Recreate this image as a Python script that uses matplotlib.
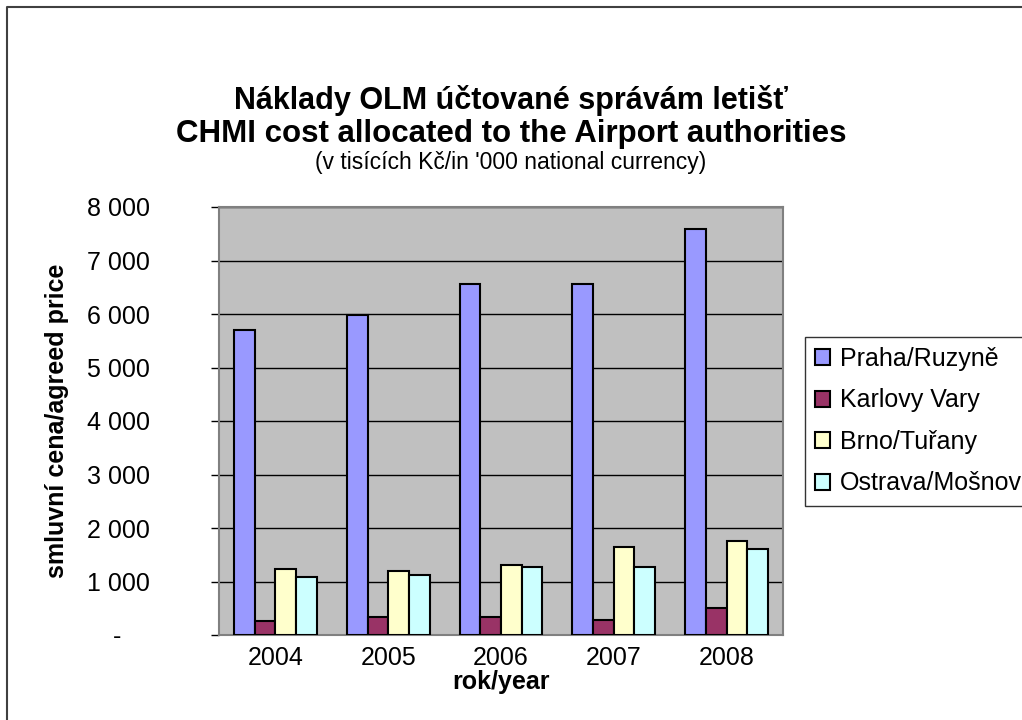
import numpy as np
import matplotlib.pyplot as plt
from matplotlib.lines import Line2D
from matplotlib.transforms import ScaledTranslation
plt.rcParams['font.family'] = ['Liberation Sans', 'DejaVu Sans']

# data (thousands CZK)
years = ['2004', '2005', '2006', '2007', '2008']
series_names = ['Praha/Ruzyně', 'Karlovy Vary', 'Brno/Tuřany', 'Ostrava/Mošnov']
praha = [5710, 5975, 6570, 6570, 7580]
karlovy = [260, 335, 330, 285, 510]
brno = [1230, 1190, 1300, 1645, 1755]
ostrava = [1090, 1120, 1265, 1265, 1605]
colors = ['#9999FF', '#993366', '#FFFFCC', '#CCFFFF']
yticks = [0, 1000, 2000, 3000, 4000, 5000, 6000, 7000, 8000]
ytick_labels = ['-', '1 000', '2 000', '3 000', '4 000', '5 000', '6 000', '7 000', '8 000']

W, H = 1022, 720
fig = plt.figure(figsize=(W/100, H/100), dpi=100)
ax = fig.add_axes([219/W, 1-635/H, (783-219)/W, (635-207)/H])
ax.set_facecolor('#C0C0C0')

x = np.arange(len(years))
w = 0.1835
for i, (vals, name) in enumerate(zip([praha, karlovy, brno, ostrava], series_names)):
    ax.bar(x + (i-1.5)*w, vals, width=w, color=colors[i], edgecolor='black',
           linewidth=1.5, label=name, zorder=3)

ax.set_xlim(-0.5, 4.5)
ax.set_ylim(0, 8000)
ax.set_yticks(yticks)
ax.set_yticklabels(ytick_labels, fontsize=18)
ax.set_xticks(x)
ax.set_xticklabels(years, fontsize=18)
ax.tick_params(axis='x', length=0, pad=8)
ax.tick_params(axis='y', length=6, width=1, color='black', pad=44)
ax.yaxis.grid(True, color='black', linewidth=1, zorder=1)
ax.set_axisbelow(True)
for s in ax.spines.values():
    s.set_color('#808080')
    s.set_linewidth(1.5)

# accounting-style dash sits further left
lab0 = ax.get_yticklabels()[0]
lab0.set_transform(lab0.get_transform() + ScaledTranslation(-0.28, 0, fig.dpi_scale_trans))

ax.set_xlabel('rok/year', fontsize=18, fontweight='bold', labelpad=0)
fig.text(57/W, 1-421/H, 'smluvní cena/agreed price', rotation=90, ha='center', va='center',
         fontsize=18, fontweight='bold')

fig.text(0.5, 1-101/H, 'Náklady OLM účtované správám letišť', ha='center', va='center',
         fontsize=22, fontweight='bold')
fig.text(0.5, 1-134/H, 'CHMI cost allocated to the Airport authorities', ha='center', va='center',
         fontsize=22.5, fontweight='bold')
fig.text(0.5, 1-163/H, "(v tisících Kč/in '000 national currency)", ha='center', va='center',
         fontsize=16.5)

leg = fig.legend(loc='upper left', bbox_to_anchor=(805/W, 1-337/H), fontsize=18,
                 frameon=True, fancybox=False, handlelength=0.6, handleheight=0.6,
                 handletextpad=0.4, labelspacing=0.7, borderpad=0.4, borderaxespad=0)
leg.get_frame().set_edgecolor('black')
leg.get_frame().set_linewidth(1)

# chart-area border: only left and top edges fall inside the picture
fig.add_artist(Line2D([7/W, 7/W, 1.0], [0, 1-7/H, 1-7/H], transform=fig.transFigure,
                      color='#404040', linewidth=1.5))

fig.savefig('out.png', dpi=100)
